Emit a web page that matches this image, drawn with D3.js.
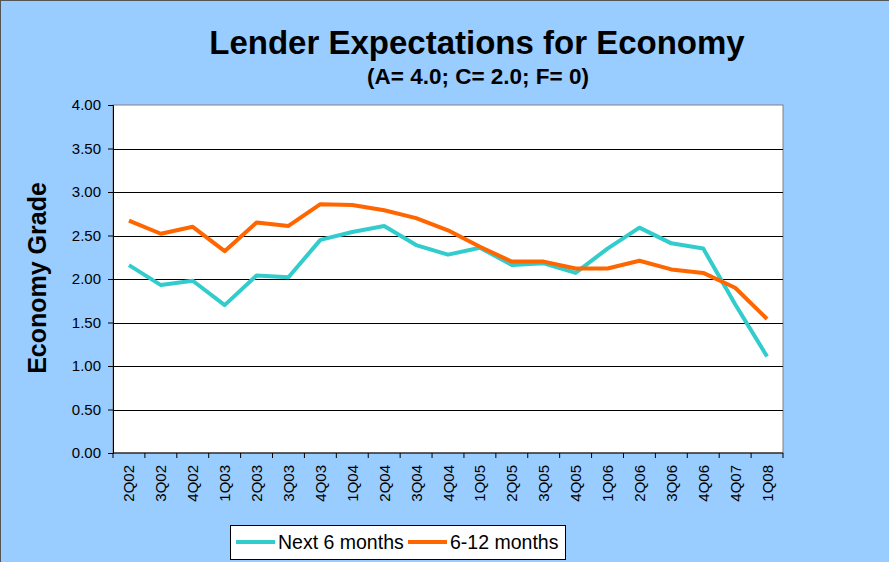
<!DOCTYPE html>
<html>
<head>
<meta charset="utf-8">
<script src="https://cdn.jsdelivr.net/npm/d3@7"></script>
<style>
  body { margin: 0; background: #99ccff; }
  svg { display: block; font-family: "Liberation Sans", Arial, sans-serif; }
</style>
</head>
<body>
<svg id="chart" width="889" height="562"></svg>
<script>
// quarters on the x axis
const quarters = ["2Q02","3Q02","4Q02","1Q03","2Q03","3Q03","4Q03","1Q04","2Q04","3Q04","4Q04",
  "1Q05","2Q05","3Q05","4Q05","1Q06","2Q06","3Q06","4Q06","4Q07","1Q08"];
const next6 = [2.16,1.93,1.98,1.70,2.04,2.02,2.45,2.54,2.61,2.39,2.28,
  2.36,2.16,2.18,2.07,2.35,2.59,2.41,2.35,1.71,1.11];
const months612 = [2.67,2.52,2.60,2.32,2.65,2.61,2.86,2.85,2.79,2.70,2.56,
  2.37,2.20,2.20,2.12,2.12,2.21,2.11,2.07,1.90,1.54];
const yTicks = [0,0.5,1,1.5,2,2.5,3,3.5,4];

const series = [
  { name: "Next 6 months", values: next6, color: "#33cccc" },
  { name: "6-12 months", values: months612, color: "#ff6600" }
];

const svg = d3.select("#chart");
const plot = { left: 113, right: 783, top: 105, bottom: 453 };

// outer frame
svg.append("rect")
    .attr("x", 0.5).attr("y", 0.5)
    .attr("width", 900).attr("height", 600)
    .attr("fill", "#99ccff")
    .attr("stroke", "#555");

const x = d3.scaleBand()
    .domain(quarters)
    .range([plot.left, plot.right]);

const y = d3.scaleLinear()
    .domain([0, 4])
    .range([plot.bottom, plot.top]);

// plot background
svg.append("rect")
    .attr("x", plot.left).attr("y", plot.top)
    .attr("width", plot.right - plot.left).attr("height", plot.bottom - plot.top)
    .attr("fill", "#fff")
    .attr("stroke", "#808080");

// gridlines
svg.append("g")
  .selectAll("line")
  .data(yTicks.filter(d => d > 0 && d < 4))
  .join("line")
    .attr("x1", plot.left).attr("x2", plot.right)
    .attr("y1", d => Math.round(y(d)) + 0.5).attr("y2", d => Math.round(y(d)) + 0.5)
    .attr("stroke", "#000")
    .attr("stroke-width", 1);

// y axis
const yAxis = svg.append("g")
    .attr("transform", "translate(" + plot.left + ",0)")
    .call(d3.axisLeft(y).tickValues(yTicks).tickFormat(d3.format(".2f")).tickSize(5).tickPadding(7));
yAxis.select(".domain").attr("stroke", "#000");
yAxis.selectAll("text")
    .style("font-size", "15px")
    .style("fill", "#000");

// x axis - ticks at band edges
const xAxis = svg.append("g")
    .attr("transform", "translate(0," + plot.bottom + ")");
xAxis.append("line")
    .attr("x1", plot.left).attr("x2", plot.right)
    .attr("stroke", "#000");
xAxis.selectAll("line.tick")
  .data(quarters.concat([null]))
  .join("line")
    .attr("class", "tick")
    .attr("x1", (d, i) => plot.left + i * x.step())
    .attr("x2", (d, i) => plot.left + i * x.step())
    .attr("y1", 0).attr("y2", 5)
    .attr("stroke", "#000");
xAxis.selectAll("text")
  .data(quarters)
  .join("text")
    .attr("transform", d => "translate(" + (x(d) + x.bandwidth() / 2 + 5.5) + ",12) rotate(-90)")
    .attr("text-anchor", "end")
    .style("font-size", "15px")
    .text(d => d);

// lines
const line = d3.line()
    .x((d, i) => x(quarters[i]) + x.bandwidth() / 2)
    .y(d => y(d));

svg.append("g")
  .selectAll("path")
  .data(series)
  .join("path")
    .attr("d", d => line(d.values))
    .attr("fill", "none")
    .attr("stroke", d => d.color)
    .attr("stroke-width", 4)
    .attr("stroke-linejoin", "round");

// titles
svg.append("text")
    .attr("x", 477).attr("y", 54)
    .attr("text-anchor", "middle")
    .style("font-size", "33px")
    .style("font-weight", "bold")
    .text("Lender Expectations for Economy");

svg.append("text")
    .attr("x", 478).attr("y", 84)
    .attr("text-anchor", "middle")
    .style("font-size", "22.5px")
    .style("font-weight", "bold")
    .text("(A= 4.0; C= 2.0; F= 0)");

svg.append("text")
    .attr("transform", "translate(46,278) rotate(-90)")
    .attr("text-anchor", "middle")
    .style("font-size", "25px")
    .style("font-weight", "bold")
    .text("Economy Grade");

// legend
const legend = svg.append("g").attr("transform", "translate(230,525)");
legend.append("rect")
    .attr("x", 0.5).attr("y", 0.5)
    .attr("width", 335).attr("height", 34)
    .attr("fill", "#fff")
    .attr("stroke", "#000");

const item = legend.selectAll("g.item")
  .data(series)
  .join("g")
    .attr("class", "item")
    .attr("transform", (d, i) => "translate(" + [6, 178][i] + ",0)");
item.append("line")
    .attr("x1", 0).attr("x2", 39)
    .attr("y1", 17).attr("y2", 17)
    .attr("stroke", d => d.color)
    .attr("stroke-width", 4);
item.append("text")
    .attr("x", 42).attr("y", 24)
    .style("font-size", "19.5px")
    .text(d => d.name);
</script>
</body>
</html>
